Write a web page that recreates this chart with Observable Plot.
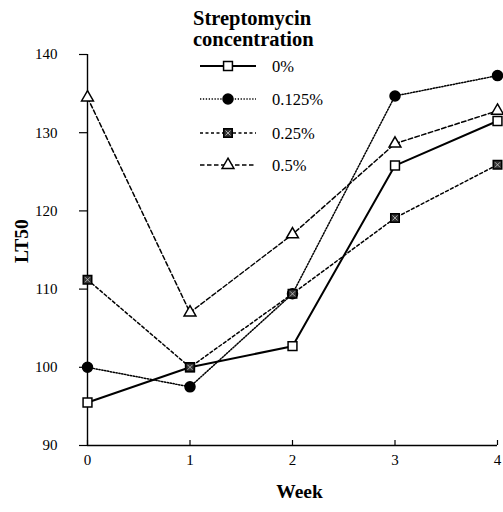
<!DOCTYPE html>
<html><head><meta charset="utf-8">
<script src="https://cdn.jsdelivr.net/npm/d3@7"></script>
<script src="https://cdn.jsdelivr.net/npm/@observablehq/plot@0.6"></script>
<style>
body{margin:0;background:#fff;}
#wrap{position:relative;width:503px;height:512px;font-family:'Liberation Serif';}
#wrap svg, #wrap svg text{font-family:'Liberation Serif' !important;}
#legend{position:absolute;left:0;top:0;pointer-events:none;}
</style></head><body><div id="wrap"></div>
<script>
// ---- data ----
const weeks = [0, 1, 2, 3, 4];
const seriesNames = ["0%", "0.125%", "0.25%", "0.5%"];
const s0    = [95.5, 100, 102.7, 125.8, 131.5];
const s0125 = [100, 97.5, 109.4, 134.7, 137.3];
const s025  = [111.2, 100, 109.4, 119.1, 125.9];
const s05   = [134.5, 107, 117, 128.6, 132.8];
const yTicks = [90, 100, 110, 120, 130, 140];
const xTicks = [0, 1, 2, 3, 4];
const legendTitle = ["Streptomycin", "concentration"];
const xLabel = "Week";
const yLabel = "LT50";

// ---- styles ----
const seriesValues = [s0, s0125, s025, s05];
const styles = [
  {dash: null,      width: 2.0, symbol: "square",   fill: "white", r: 5.0},
  {dash: "1.3,1.6", width: 1.5, symbol: "circle",   fill: "black", r: 5.0},
  {dash: "3,2.5",   width: 1.5, symbol: "square",   fill: "#333", r: 4.8, cross: true},
  {dash: "4.5,2.5", width: 1.5, symbol: "triangle", fill: "white", r: 4.4}
];
const font = "Liberation Serif";

const rows = seriesNames.flatMap((s, i) => weeks.map((w, j) => ({series: s, week: w, lt: seriesValues[i][j]})));

const marks = [
  Plot.axisY(yTicks, {tickSize: 8, tickPadding: 22, fontSize: 15, label: null, fontFamily: font, strokeWidth: 1.2}),
  Plot.axisX(xTicks, {tickSize: 0, tickPadding: 9, fontSize: 15, label: null, fontFamily: font}),
  Plot.tickX(xTicks, {x: d => d, insetTop: 386, stroke: "black", strokeWidth: 1.2}),
  Plot.ruleX([0], {stroke: "black", strokeWidth: 1.4}),
  Plot.ruleY([90], {stroke: "black", strokeWidth: 1.4}),
];
seriesNames.forEach((s, i) => {
  const st = styles[i];
  marks.push(Plot.line(rows.filter(d => d.series === s), {x: "week", y: "lt", stroke: "black", strokeWidth: st.width, strokeDasharray: st.dash}));
});
seriesNames.forEach((s, i) => {
  const st = styles[i];
  const data = rows.filter(d => d.series === s);
  marks.push(Plot.dot(data, {x: "week", y: "lt", symbol: st.symbol, fill: st.fill, stroke: "black", strokeWidth: 1.5, r: st.r}));
  if (st.cross) marks.push(Plot.dot(data, {x: "week", y: "lt", symbol: "times", stroke: "#ccc", strokeWidth: 0.8, r: 2.4}));
});
marks.push(Plot.text([yLabel], {frameAnchor: "left", dx: -66, dy: 13, rotate: -90, fontSize: 19.5, fontWeight: "bold", fontFamily: font}));
marks.push(Plot.text([xLabel], {frameAnchor: "bottom", dy: 52, dx: 7, fontSize: 19.5, fontWeight: "bold", fontFamily: font}));

const chart = Plot.plot({
  width: 503, height: 512,
  marginLeft: 87, marginRight: 6, marginTop: 54, marginBottom: 67,
  x: {domain: [0, 4]},
  y: {domain: [90, 140]},
  style: {fontFamily: font, color: "black", background: "white", overflow: "visible"},
  marks
});
document.getElementById("wrap").appendChild(chart);

// ---- legend overlay ----
const lg = d3.select("#wrap").append("svg").attr("id", "legend").attr("width", 503).attr("height", 512)
  .attr("font-family", font);
lg.selectAll("text.title").data(legendTitle).join("text").attr("class", "title")
  .attr("x", 193).attr("y", (d, i) => 25 + i * 21).attr("font-size", 20.5).attr("font-weight", "bold").text(d => d);
const symMap = {square: d3.symbolSquare, circle: d3.symbolCircle, triangle: d3.symbolTriangle};
const rowY = [66, 99, 133, 165];
seriesNames.forEach((s, i) => {
  const st = styles[i];
  const g = lg.append("g").attr("transform", `translate(0,${rowY[i]})`);
  g.append("line").attr("x1", 200).attr("x2", 256).attr("y1", 0).attr("y2", 0)
    .attr("stroke", "black").attr("stroke-width", st.width).attr("stroke-dasharray", st.dash);
  g.append("path").attr("transform", "translate(228,0)")
    .attr("d", d3.symbol(symMap[st.symbol], Math.PI * st.r * st.r)())
    .attr("fill", st.fill).attr("stroke", "black").attr("stroke-width", 1.5);
  if (st.cross) g.append("path").attr("transform", "translate(228,0)")
    .attr("d", d3.symbol(d3.symbolTimes, Math.PI * 2.4 * 2.4)()).attr("fill", "none").attr("stroke", "#ccc").attr("stroke-width", 0.8);
  g.append("text").attr("x", 272).attr("y", 6).attr("font-size", 16.5).text(s);
});
</script></body></html>
